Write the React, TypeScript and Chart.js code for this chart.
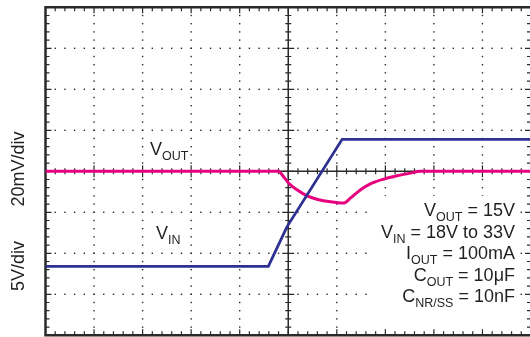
import React, { useEffect, useRef } from "react";
import { Chart, registerables } from "chart.js";

Chart.register(...registerables);

// Time axis in divisions (10 div across, centre = 0)
const timeMin = -5;
const timeMax = 5;

// VIN trace (5V/div)
const timeVin = [-5, -0.41, -0.03, 1.11, 5];
const vinVolts = [18.4, 18.4, 23.2, 33.9, 33.9];

// VOUT trace, deviation in mV (20mV/div)
const timeVout = [-5, -0.2, -0.1, 0.01, 0.18, 0.39, 0.59, 0.87, 1.14, 1.28, 1.49, 1.69, 1.97, 2.24, 2.52, 2.72, 5];
const voutMv = [0, 0, -2.5, -5.8, -9.0, -12.0, -13.6, -14.9, -15.5, -13.1, -9.0, -6.1, -3.8, -2.2, -0.9, 0, 0];

const vinRange = [10, 50];
const voutRange = [-80, 80];

const yAxisLabels = ["20mV/div", "5V/div"];
const traceLabels = [
  { main: "V", sub: "OUT" },
  { main: "V", sub: "IN" },
];
const conditions = [
  { main: "V", sub: "OUT", rest: " = 15V" },
  { main: "V", sub: "IN", rest: " = 18V to 33V" },
  { main: "I", sub: "OUT", rest: " = 100mA" },
  { main: "C", sub: "OUT", rest: " = 10\u03bcF" },
  { main: "C", sub: "NR/SS", rest: " = 10nF" },
];

const PINK = "#E6007E";
const BLUE = "#2E3192";
const INK = "#2a2a2a";
const FONT = "Liberation Sans, Arial, Helvetica, sans-serif";

const scopePlugin = {
  id: "scopeGrid",
  beforeDatasetsDraw(chart: any) {
    const { ctx, chartArea: a } = chart;
    const w = a.right - a.left;
    const h = a.bottom - a.top;
    const nx = 10, ny = 8, m = 5;
    ctx.save();
    ctx.fillStyle = INK;
    // dotted major grid
    for (let i = 1; i < nx; i++) {
      if (i === nx / 2) continue;
      const px = a.left + (i * w) / nx;
      for (let k = 1; k < ny * m; k++) {
        const py = a.top + (k * h) / (ny * m);
        ctx.fillRect(px - 0.7, py - 0.7, 1.4, 1.4);
      }
    }
    for (let j = 1; j < ny; j++) {
      if (j === ny / 2) continue;
      const py = a.top + (j * h) / ny;
      for (let k = 1; k < nx * m; k++) {
        const px = a.left + (k * w) / (nx * m);
        ctx.fillRect(px - 0.7, py - 0.7, 1.4, 1.4);
      }
    }
    // white panel behind the conditions text
    ctx.fillStyle = "#ffffff";
    ctx.fillRect(374, 196, 145, 133);
    ctx.strokeStyle = INK;
    ctx.lineWidth = 1.2;
    ctx.beginPath();
    // frame ticks (top / bottom)
    for (let k = 1; k < nx * m; k++) {
      const px = a.left + (k * w) / (nx * m);
      const len = k % m === 0 ? 6 : 4;
      ctx.moveTo(px, a.top);
      ctx.lineTo(px, a.top + len);
      ctx.moveTo(px, a.bottom);
      ctx.lineTo(px, a.bottom - len);
    }
    // frame ticks (left / right)
    for (let k = 1; k < ny * m; k++) {
      const py = a.top + (k * h) / (ny * m);
      const len = k % m === 0 ? 6 : 4;
      ctx.moveTo(a.left, py);
      ctx.lineTo(a.left + len, py);
      ctx.moveTo(a.right, py);
      ctx.lineTo(a.right - len, py);
    }
    // centre axes ticks
    const cx = a.left + w / 2;
    const cy = a.top + h / 2;
    for (let k = 1; k < ny * m; k++) {
      const py = a.top + (k * h) / (ny * m);
      const len = k % m === 0 ? 6 : 3;
      ctx.moveTo(cx - len, py);
      ctx.lineTo(cx + len, py);
    }
    for (let k = 1; k < nx * m; k++) {
      const px = a.left + (k * w) / (nx * m);
      const len = k % m === 0 ? 6 : 3;
      ctx.moveTo(px, cy - len);
      ctx.lineTo(px, cy + len);
    }
    ctx.stroke();
    // centre axes
    ctx.lineWidth = 1.5;
    ctx.beginPath();
    ctx.moveTo(cx, a.top);
    ctx.lineTo(cx, a.bottom);
    ctx.moveTo(a.left, cy);
    ctx.lineTo(a.right, cy);
    ctx.stroke();
    // frame
    ctx.lineWidth = 2.5;
    ctx.beginPath();
    ctx.moveTo(a.right + 2, a.top);
    ctx.lineTo(a.left, a.top);
    ctx.lineTo(a.left, a.bottom);
    ctx.lineTo(a.right + 2, a.bottom);
    ctx.stroke();
    ctx.restore();
  },
  afterDatasetsDraw(chart: any) {
    const { ctx } = chart;
    ctx.save();
    ctx.fillStyle = "#231F20";
    ctx.textBaseline = "alphabetic";
    const mainFont = `18px ${FONT}`;
    const subFont = `12.5px ${FONT}`;
    const drawSub = (x: number, y: number, main: string, sub: string, rest: string, alignRight: boolean) => {
      ctx.font = mainFont;
      const w1 = ctx.measureText(main).width;
      const w3 = ctx.measureText(rest).width;
      ctx.font = subFont;
      const w2 = ctx.measureText(sub).width;
      let sx = alignRight ? x - (w1 + w2 + w3) : x;
      ctx.textAlign = "left";
      ctx.font = mainFont;
      ctx.fillText(main, sx, y);
      sx += w1;
      ctx.font = subFont;
      ctx.fillText(sub, sx, y + 5);
      sx += w2;
      ctx.font = mainFont;
      ctx.fillText(rest, sx, y);
    };
    // trace labels
    drawSub(150, 155, traceLabels[0].main, traceLabels[0].sub, "", false);
    drawSub(156, 238.5, traceLabels[1].main, traceLabels[1].sub, "", false);
    // conditions
    const baselines = [216, 237.5, 259, 280.5, 302];
    conditions.forEach((c, i) => drawSub(515, baselines[i], c.main, c.sub, c.rest, true));
    // rotated axis labels
    ctx.font = mainFont;
    ctx.textAlign = "center";
    const ly = [169, 266];
    yAxisLabels.forEach((t, i) => {
      ctx.save();
      ctx.translate(24, ly[i]);
      ctx.rotate(-Math.PI / 2);
      ctx.fillText(t, 0, 0);
      ctx.restore();
    });
    ctx.restore();
  },
};

export default function App() {
  const ref = useRef<HTMLCanvasElement | null>(null);
  useEffect(() => {
    if (!ref.current) return;
    const chart = new Chart(ref.current, {
      type: "line",
      data: {
        datasets: [
          {
            label: "VIN",
            data: timeVin.map((t, i) => ({ x: t, y: vinVolts[i] })),
            yAxisID: "yIn",
            borderColor: BLUE,
            borderWidth: 2.8,
            pointRadius: 0,
            tension: 0,
          },
          {
            label: "VOUT",
            data: timeVout.map((t, i) => ({ x: t, y: voutMv[i] })),
            yAxisID: "yOut",
            borderColor: PINK,
            borderWidth: 3,
            pointRadius: 0,
            cubicInterpolationMode: "monotone",
          },
        ],
      },
      options: {
        animation: false,
        responsive: true,
        maintainAspectRatio: false,
        layout: { padding: { left: 45.5, top: 7.3, right: 0, bottom: 1.7 } },
        plugins: { legend: { display: false }, tooltip: { enabled: false } },
        events: [],
        scales: {
          x: { type: "linear", min: timeMin, max: timeMax, display: false },
          yOut: { type: "linear", min: voutRange[0], max: voutRange[1], display: false },
          yIn: { type: "linear", min: vinRange[0], max: vinRange[1], display: false },
        },
      },
      plugins: [scopePlugin],
    } as any);
    return () => chart.destroy();
  }, []);
  return (
    <div style={{ position: "absolute", left: 0, top: 0, width: 530, height: 337, overflow: "hidden", background: "#fff" }}>
      <div style={{ position: "relative", width: 531, height: 337 }}>
        <canvas ref={ref} />
      </div>
    </div>
  );
}
